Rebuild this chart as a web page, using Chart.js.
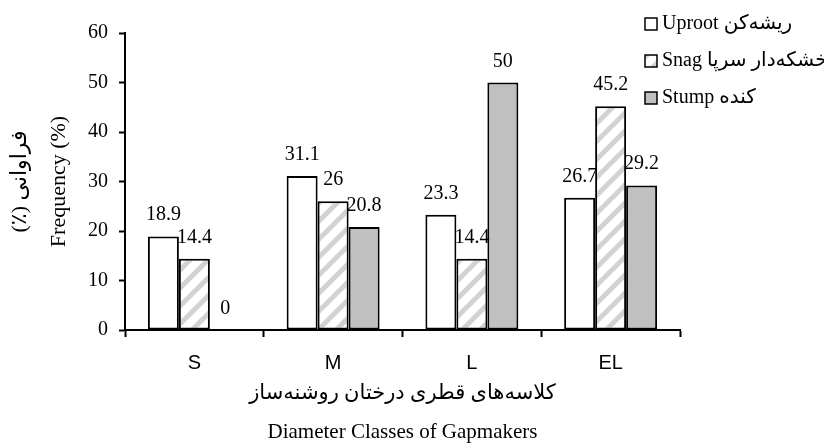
<!DOCTYPE html>
<html lang="fa">
<head>
    <meta charset="UTF-8">
    <title>Diameter Classes of Gapmakers</title>
    <script src="https://cdn.jsdelivr.net/npm/chart.js"></script>
    <style>
        body { margin: 0; background: #fff; }
        #wrap { width: 824px; height: 448px; position: relative; }
    </style>
</head>
<body>
    <div id="wrap"><canvas id="gap-chart"></canvas></div>

    <script>
        // data
        const categories = ['S', 'M', 'L', 'EL'];
        const uproot = [18.9, 31.1, 23.3, 26.7];
        const snag = [14.4, 26, 14.4, 45.2];
        const stump = [0, 20.8, 50, 29.2];
        const seriesNames = ['Uproot ریشه\u200Cکن', 'Snag خشکه\u200Cدار سرپا', 'Stump کنده'];
        // RLE ... PDF so the Persian line keeps its right-to-left order on the canvas
        const yTitle = ['\u202Bفراوانی (٪)\u202C', 'Frequency (%)'];
        const xTitle = ['کلاسه\u200Cهای قطری درختان روشنه\u200Cساز', 'Diameter Classes of Gapmakers'];

        const serif = "'Liberation Serif', 'DejaVu Sans', serif";

        function stripes() {
            const c = document.createElement('canvas');
            c.width = 18; c.height = 18;
            const g = c.getContext('2d');
            g.fillStyle = '#fff';
            g.fillRect(0, 0, 18, 18);
            g.strokeStyle = '#d2d2d2';
            g.lineWidth = 5;
            g.beginPath();
            g.moveTo(-9, 9); g.lineTo(9, -9);
            g.moveTo(0, 18); g.lineTo(18, 0);
            g.moveTo(9, 27); g.lineTo(27, 9);
            g.stroke();
            return g.createPattern(c, 'repeat');
        }

        // values above bars
        const valueLabels = {
            id: 'valueLabels',
            afterDatasetsDraw(chart) {
                const ctx = chart.ctx;
                ctx.save();
                ctx.font = '20px ' + serif;
                ctx.fillStyle = '#000';
                ctx.textAlign = 'center';
                ctx.textBaseline = 'alphabetic';
                chart.data.datasets.forEach((ds, i) => {
                    chart.getDatasetMeta(i).data.forEach((bar, j) => {
                        ctx.fillText(String(ds.data[j]), bar.x, bar.y - 16);
                    });
                });
                ctx.restore();
            }
        };

        // legend at top right, drawn over the plot corner like the original
        const cornerLegend = {
            id: 'cornerLegend',
            afterDraw(chart) {
                const ctx = chart.ctx;
                ctx.save();
                ctx.font = '20px ' + serif;
                ctx.textBaseline = 'middle';
                ctx.textAlign = 'left';
                chart.data.datasets.forEach((ds, i) => {
                    const y = 24 + i * 37;
                    ctx.fillStyle = ds.backgroundColor;
                    ctx.fillRect(645, y - 6, 12, 12);
                    ctx.strokeStyle = '#000';
                    ctx.lineWidth = 1.5;
                    ctx.strokeRect(645, y - 6, 12, 12);
                    ctx.fillStyle = '#000';
                    ctx.fillText(ds.label, 662, y);
                });
                ctx.restore();
            }
        };

        const ctx = document.getElementById('gap-chart').getContext('2d');
        const barStyle = { borderColor: '#000', borderWidth: 2, borderSkipped: false };

        new Chart(ctx, {
            type: 'bar',
            data: {
                labels: categories,
                datasets: [
                    { label: seriesNames[0], data: uproot, backgroundColor: '#ffffff', ...barStyle },
                    { label: seriesNames[1], data: snag, backgroundColor: stripes(), ...barStyle },
                    { label: seriesNames[2], data: stump, backgroundColor: '#c0c0c0', ...barStyle }
                ]
            },
            options: {
                responsive: true,
                maintainAspectRatio: false,
                animation: false,
                layout: { padding: { left: 0, right: 144, top: 33, bottom: 0 } },
                datasets: { bar: { barPercentage: 1, categoryPercentage: 0.67 } },
                plugins: {
                    legend: { display: false },
                    tooltip: { enabled: false }
                },
                scales: {
                    x: {
                        grid: { offset: true, drawOnChartArea: false, tickLength: 7, tickColor: '#000', tickWidth: 2 },
                        border: { color: '#000', width: 2 },
                        ticks: { color: '#000', padding: 14, font: { family: "'Liberation Sans', Arial, sans-serif", size: 20 } },
                        title: {
                            display: true,
                            text: xTitle,
                            color: '#000',
                            font: { family: serif, size: 21, lineHeight: 1.86 },
                            padding: { top: 0, bottom: -4 }
                        },
                        afterFit(scale) { scale.height = 118; }
                    },
                    y: {
                        min: 0,
                        max: 60,
                        ticks: { stepSize: 10, color: '#000', padding: 11, font: { family: serif, size: 20 } },
                        grid: { drawOnChartArea: false, tickLength: 6, tickColor: '#000', tickWidth: 2 },
                        border: { color: '#000', width: 2 },
                        title: {
                            display: true,
                            text: yTitle,
                            color: '#000',
                            font: { family: serif, size: 22, lineHeight: 1.77 },
                            padding: { top: 1, bottom: 0 }
                        },
                        afterFit(scale) { scale.width = 125; }
                    }
                }
            },
            plugins: [valueLabels, cornerLegend]
        });
    </script>
</body>
</html>
